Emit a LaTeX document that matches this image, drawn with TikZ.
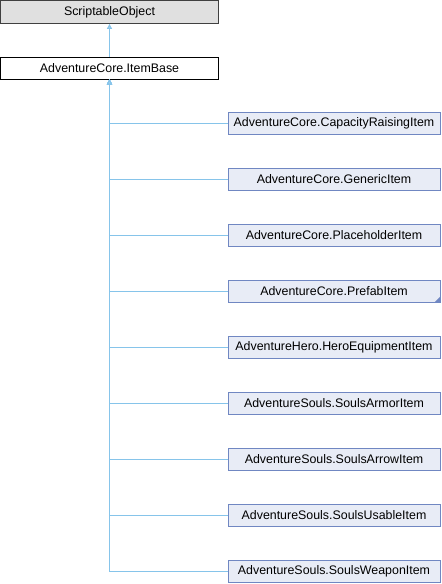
\documentclass[tikz,border=0pt]{standalone}
\usepackage{fontspec}
\setmainfont{Liberation Sans}
\usetikzlibrary{arrows.meta}

\definecolor{edgeblue}{RGB}{134,196,234}
\definecolor{boxline}{RGB}{112,135,194}
\definecolor{boxfill}{RGB}{232,236,246}
\definecolor{rootfill}{RGB}{224,224,224}

\tikzset{
  rootbox/.style={draw=black!75, fill=rootfill, line width=0.8pt, minimum width=218, minimum height=23, inner sep=0pt},
  basebox/.style={draw=black, fill=white, line width=0.8pt, minimum width=218, minimum height=22, inner sep=0pt},
  childbox/.style={draw=boxline, fill=boxfill, line width=0.8pt, minimum width=212, minimum height=22, inner sep=0pt},
  inherit/.style={draw=edgeblue, line width=1pt, -{Triangle[length=5pt, width=5pt, fill=edgeblue!70]}}
}

\begin{document}
\begin{tikzpicture}[x=1pt,y=1pt,yscale=-1,font=\fontsize{12.4}{14}\selectfont]
\useasboundingbox (0,0) rectangle (442,584);

% Parent classes
\node[rootbox] (scriptable) at (109.5,12) {ScriptableObject};
\node[basebox] (itembase) at (109.5,68) {AdventureCore.ItemBase};

% Derived classes
\node[childbox] (capacity) at (334,123) {AdventureCore.CapacityRaisingItem};
\node[childbox] (generic) at (334,179) {AdventureCore.GenericItem};
\node[childbox] (placeholder) at (334,235) {AdventureCore.PlaceholderItem};
\node[childbox] (prefab) at (334,291) {AdventureCore.PrefabItem};
\node[childbox] (heroequip) at (334,347) {AdventureHero.HeroEquipmentItem};
\node[childbox] (armor) at (334,403) {AdventureSouls.SoulsArmorItem};
\node[childbox] (arrow) at (334,459) {AdventureSouls.SoulsArrowItem};
\node[childbox] (usable) at (334,515) {AdventureSouls.SoulsUsableItem};
\node[childbox] (weapon) at (334,571) {AdventureSouls.SoulsWeaponItem};

% Folded corner of PrefabItem
\fill[boxline] (prefab.south east) -- ++(-6,0) -- ++(6,-6) -- cycle;

% Inheritance
\draw[inherit] (itembase) -- (scriptable);
\draw[inherit] (capacity.west) -| (itembase.south);
\draw[inherit] (generic.west) -| (itembase.south);
\draw[inherit] (placeholder.west) -| (itembase.south);
\draw[inherit] (prefab.west) -| (itembase.south);
\draw[inherit] (heroequip.west) -| (itembase.south);
\draw[inherit] (armor.west) -| (itembase.south);
\draw[inherit] (arrow.west) -| (itembase.south);
\draw[inherit] (usable.west) -| (itembase.south);
\draw[inherit] (weapon.west) -| (itembase.south);

\end{tikzpicture}
\end{document}
